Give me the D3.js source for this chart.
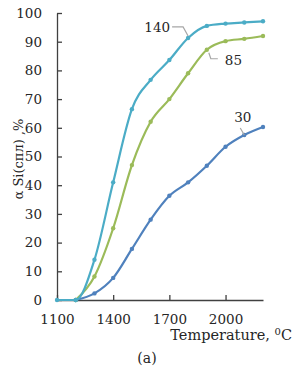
<!DOCTYPE html>
<html>
<head>
<meta charset="utf-8">
<script src="https://cdn.jsdelivr.net/npm/d3@7"></script>
<style>
  body { margin: 0; background: #fff; }
  svg text { font-family: "DejaVu Serif", serif; fill: #262626; }
</style>
</head>
<body>
<svg id="chart" width="294" height="373"></svg>
<script>
"use strict";

var temps = [1100, 1200, 1300, 1400, 1500, 1600, 1700, 1800, 1900, 2000, 2100, 2200];
var s140 = [0, 0, 14, 41, 66.5, 76.7, 83.6, 91.3, 95.5, 96.3, 96.7, 97.1];
var s85 = [null, 0, 8.2, 25, 47, 62.1, 70, 79, 87.2, 90.2, 91, 92];
var s30 = [null, 0, 2.3, 7.7, 17.8, 28, 36.3, 41, 46.8, 53.4, 57.5, 60.3];
var seriesNames = ["30", "85", "140"];
var seriesColors = ["#4f81bd", "#9bbb59", "#4bacc6"];
var yTicks = [0, 10, 20, 30, 40, 50, 60, 70, 80, 90, 100];
var xTicks = [1100, 1400, 1700, 2000];
// which point each series label points to
var labelAt = [2100, 1900, 1800];

var svg = d3.select('#chart');

var x = d3.scaleLinear().domain([1100, 2200]).range([57, 263]);
var y = d3.scaleLinear().domain([0, 100]).range([300, 13]);

var yAxis = d3.axisLeft(y).tickValues(yTicks).tickFormat(d3.format('d'))
  .tickSize(-5).tickSizeOuter(0).tickPadding(15);
var xAxis = d3.axisBottom(x).tickValues(xTicks).tickFormat(d3.format('d'))
  .tickSize(-5).tickSizeOuter(0).tickPadding(14);

var gy = svg.append('g').attr('transform', 'translate(' + x(1100) + ',0)').call(yAxis);
var gx = svg.append('g').attr('transform', 'translate(0,' + y(0) + ')').call(xAxis);

[gx, gy].forEach(function (g) {
  g.selectAll('path, line').attr('stroke', '#404040').attr('stroke-width', 1.3);
  g.selectAll('text').attr('font-size', 13.5).attr('font-family', '"DejaVu Serif", serif').attr('fill', '#262626');
});

var allSeries = [s30, s85, s140].map(function (vals, i) {
  return {
    name: seriesNames[i],
    color: seriesColors[i],
    points: temps.map(function (t, j) { return { t: t, v: vals[j] }; })
      .filter(function (p) { return p.v !== null; })
  };
});

var line = d3.line()
  .x(function (p) { return x(p.t); })
  .y(function (p) { return y(p.v); })
  .curve(d3.curveMonotoneX);

var groups = svg.selectAll('g.series')
  .data(allSeries)
  .enter()
  .append('g')
  .attr('class', 'series');

groups.append('path')
  .attr('d', function (s) { return line(s.points); })
  .attr('fill', 'none')
  .attr('stroke', function (s) { return s.color; })
  .attr('stroke-width', 2.2);

groups.selectAll('circle')
  .data(function (s) { return s.points.map(function (p) { return { t: p.t, v: p.v, color: s.color }; }); })
  .enter()
  .append('circle')
  .attr('cx', function (p) { return x(p.t); })
  .attr('cy', function (p) { return y(p.v); })
  .attr('r', 2.2)
  .attr('fill', function (p) { return p.color; });

// series labels with leader lines
function anchor(i) {
  var t = labelAt[i];
  var v = allSeries[i].points.filter(function (p) { return p.t === t; })[0].v;
  return [x(t), y(v)];
}

var lead = svg.append('g').attr('fill', 'none').attr('stroke', '#a6a6a6').attr('stroke-width', 1.2);

var a30 = anchor(0);
lead.append('polyline').attr('points', [[a30[0] - 4, a30[1] - 7], [a30[0], a30[1]]].join(' '));
svg.append('text').attr('x', a30[0] - 10).attr('y', a30[1] - 13).attr('font-size', 13.5).text('30');

var a85 = anchor(1);
lead.append('polyline').attr('points', [[a85[0] + 2, a85[1] + 3], [a85[0] + 4, a85[1] + 9], [a85[0] + 11, a85[1] + 9]].join(' '));
svg.append('text').attr('x', a85[0] + 18).attr('y', a85[1] + 15.5).attr('font-size', 13.5).text('85');

var a140 = anchor(2);
lead.append('polyline').attr('points', [[a140[0] - 16, a140[1] - 11], [a140[0] - 5, a140[1] - 11], [a140[0], a140[1] - 2]].join(' '));
svg.append('text').attr('x', a140[0] - 18).attr('y', a140[1] - 6).attr('text-anchor', 'end').attr('font-size', 13.5).text('140');

// axis titles
svg.append('text')
  .attr('transform', 'translate(23,159) rotate(-90)')
  .attr('text-anchor', 'middle')
  .attr('font-size', 13)
  .text('α Si(спл) ,%');

var xt = svg.append('text')
  .attr('x', 292)
  .attr('y', 340)
  .attr('text-anchor', 'end')
  .attr('font-size', 14.5)
  .text('Temperature, ');
xt.append('tspan').attr('font-size', 10).attr('dy', -5).text('0');
xt.append('tspan').attr('dy', 5).text('C');

svg.append('text')
  .attr('x', 147)
  .attr('y', 363)
  .attr('text-anchor', 'middle')
  .attr('font-size', 14)
  .text('(a)');
</script>
</body>
</html>
